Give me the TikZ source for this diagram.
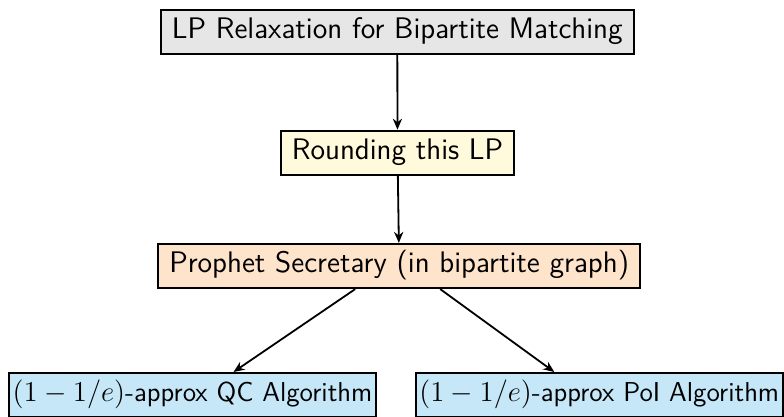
\documentclass[tikz,border=0pt]{standalone}
\usetikzlibrary{arrows.meta,calc}
\definecolor{boxgray}{HTML}{E6E6E6}
\definecolor{boxyellow}{HTML}{FFFADC}
\definecolor{boxpeach}{HTML}{FFE4CC}
\definecolor{boxblue}{HTML}{C6E7F8}
\begin{document}
\begin{tikzpicture}[x=0.5pt,y=-0.5pt,
  stepbox/.style={draw=black,line width=1pt,font=\sffamily\fontsize{14.86}{17}\selectfont,
    inner xsep=5.5pt,inner ysep=3.9pt,text height=10.6pt,text depth=3.7pt},
  leafbox/.style={draw=black,line width=1pt,fill=boxblue,anchor=west,
    font=\sffamily\fontsize{13.67}{16}\selectfont,
    inner xsep=1.7pt,inner ysep=4.4pt,text height=9.8pt,text depth=3.4pt},
  conn/.style={line width=0.9pt,-{Stealth[length=5.5pt,width=4.6pt]}}]
\useasboundingbox (0,0) rectangle (784,417);
\node[stepbox,fill=boxgray] (lp) at (397.3,31.8) {LP Relaxation for Bipartite Matching};
\node[stepbox,fill=boxyellow] (rd) at (397.5,152.8) {Rounding this LP};
\node[stepbox,fill=boxpeach] (ps) at (399.2,266) {Prophet Secretary (in bipartite graph)};
\node[leafbox] (qc) at (8.3,395) {$(1-1/e)$-approx QC Algorithm\hspace{4.15pt}};
\node[leafbox] (pi) at (415,395) {$(1-1/e)$-approx PoI Algorithm\hspace{4.15pt}};
\draw[conn] (lp) -- (rd);
\draw[conn] (rd) -- (ps);
\draw[conn] ($(ps.south)+(-44,0)$) -- ($(qc.north)+(41,0)$);
\draw[conn] ($(ps.south)+(41,0)$) -- ($(pi.north)+(-45,0)$);
\end{tikzpicture}
\end{document}
